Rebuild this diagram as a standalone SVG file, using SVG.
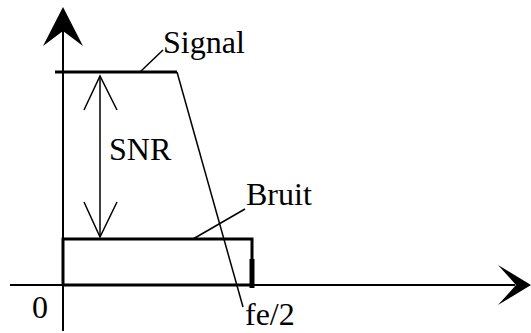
<svg xmlns="http://www.w3.org/2000/svg" width="531" height="333" viewBox="0 0 531 333">
<style>
.t{font-family:'Liberation Serif','Times New Roman',serif;font-size:32px;fill:#000}
.ax{stroke:#000;stroke-width:2;fill:none}
.th{stroke:#000;stroke-width:3;fill:none}
.tn{stroke:#000;stroke-width:1.5;fill:none}
.hd{fill:#000;stroke:none}
</style>
<rect width="531" height="333" fill="#fff"/>
<g id="connectors">
<line class="ax" x1="63" y1="20" x2="63" y2="331"/>
<polygon class="hd" points="63,7 83,46 63,31 43,46"/>
<line class="ax" x1="10" y1="285" x2="515" y2="285"/>
<polygon class="hd" points="531,285 498,305 516,285 498,265"/>
</g>
<g id="signal">
<line class="th" x1="55" y1="72" x2="177" y2="72"/>
<line class="tn" x1="177" y1="72" x2="243" y2="307"/>
<line class="tn" x1="140" y1="72" x2="163" y2="50"/>
<text class="t" x="163" y="53">Signal</text>
</g>
<g id="snr">
<line class="tn" x1="100" y1="77" x2="100" y2="236"/>
<polyline class="tn" points="84,110 100,76 117,110"/>
<polyline class="tn" points="84,202 100,237 117,202"/>
<text class="t" x="109" y="160">SNR</text>
</g>
<g id="bruit">
<polyline class="th" points="63,285 63,239 252,239 252,260"/>
<line class="th" x1="63" y1="285" x2="252" y2="285"/>
<line x1="252" y1="259" x2="252" y2="288" stroke="#000" stroke-width="5"/>
<line class="tn" x1="193" y1="239" x2="245" y2="209"/>
<text class="t" x="246" y="205">Bruit</text>
</g>
<g id="labels">
<text class="t" x="32" y="318">0</text>
<text class="t" x="245" y="325">fe/2</text>
</g>
</svg>
